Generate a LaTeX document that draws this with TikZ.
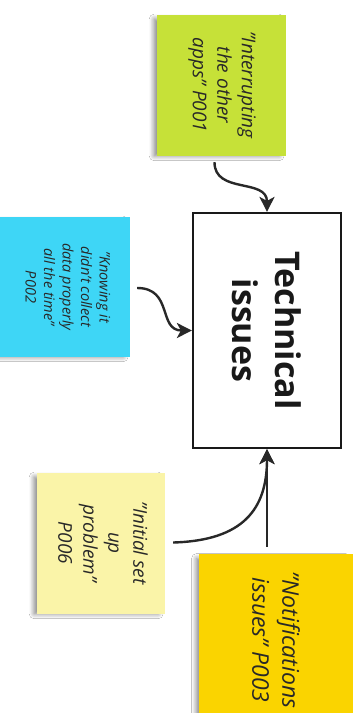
\documentclass[tikz,border=0pt]{standalone}
\usepackage{fontspec}
\setmainfont{Open Sans}
\usetikzlibrary{arrows.meta,shadows.blur,calc}
\definecolor{notegreen}{RGB}{198,225,56}
\definecolor{noteblue}{RGB}{62,214,246}
\definecolor{notecream}{RGB}{250,244,168}
\definecolor{notegold}{RGB}{250,212,0}
\definecolor{ink}{RGB}{40,40,40}
\tikzset{
  sticky/.style={rectangle, draw=none, inner sep=0pt,
    blur shadow={shadow xshift=-5pt, shadow yshift=-2pt, shadow blur steps=8,
      shadow blur radius=5pt, shadow opacity=50, shadow scale=0.97}},
  notetext/.style={rotate=-90, align=center, inner sep=0pt, text=ink,
    font=\itshape},
  topic/.style={rectangle, draw=black!90, line width=2.2pt, fill=white, inner sep=0pt},
  link/.style={draw=ink, line width=2.4pt,
    -{Stealth[length=15pt, width=15pt, inset=4pt]}},
}
\begin{document}
\begin{tikzpicture}[x=1pt, y=-1pt]
  \useasboundingbox (0,0) rectangle (359,713);
  \fill[white] (0,0) rectangle (359,713);

  % sticky notes
  \node[sticky, fill=notegreen, minimum width=129pt, minimum height=141pt] (green) at (221.5,85.5) {};
  \node[notetext, font=\itshape\fontsize{19}{24.5}\selectfont] (greentext) at (222,85)
    {"Interrupting\\ the other\\ apps" P001};

  \node[sticky, fill=noteblue, minimum width=130pt, minimum height=140pt] (blue) at (65,287) {};
  \node[notetext, font=\itshape\fontsize{14.5}{18.5}\selectfont] (bluetext) at (68,287)
    {"Knowing it\\ didn't collect\\ data properly\\ all the time"\\ P002};

  \node[sticky, fill=notecream, minimum width=128pt, minimum height=141pt] (cream) at (101,543.5) {};
  \node[notetext, font=\itshape\fontsize{19}{25}\selectfont] (creamtext) at (103,543)
    {"Initial set\\ up\\ problem"\\ P006};

  \node[sticky, fill=notegold, minimum width=154pt, minimum height=170pt] (gold) at (276,639) {};
  \node[notetext, font=\itshape\fontsize{23}{30}\selectfont] (goldtext) at (276,640)
    {"Notifications\\ issues" P003};

  % central topic
  \node[topic, minimum width=148pt, minimum height=235pt] (topic) at (267,330.5) {};
  \node[rotate=-90, align=center, inner sep=0pt, text=black!90,
    font=\bfseries\fontsize{34}{43}\selectfont]
    (topictext) at (topic.center) {Technical\\ issues};

  % connector start points just beside the notes
  \coordinate (g0) at ($(green.south)+(-7,6)$);
  \coordinate (b0) at ($(blue.east)+(7,1)$);
  \coordinate (c0) at ($(cream.east)+(8,-1)$);
  \coordinate (d0) at ($(gold.north)+(-9,-7)$);

  % connectors
  \draw[link] (g0) .. controls ($(g0)+(0,32)$) and ($(topic.north)+(0,-34)$) .. (topic.north);
  \draw[link] (b0) .. controls ($(b0)+(36,0)$) and ($(topic.west)+(-34,0)$) .. (topic.west);
  \draw[link] (c0) .. controls ($(c0)+(70,-2)$) and ($(topic.south)+(0,60)$) .. (topic.south);
  \draw[link] (d0) -- (topic.south);
\end{tikzpicture}
\end{document}
